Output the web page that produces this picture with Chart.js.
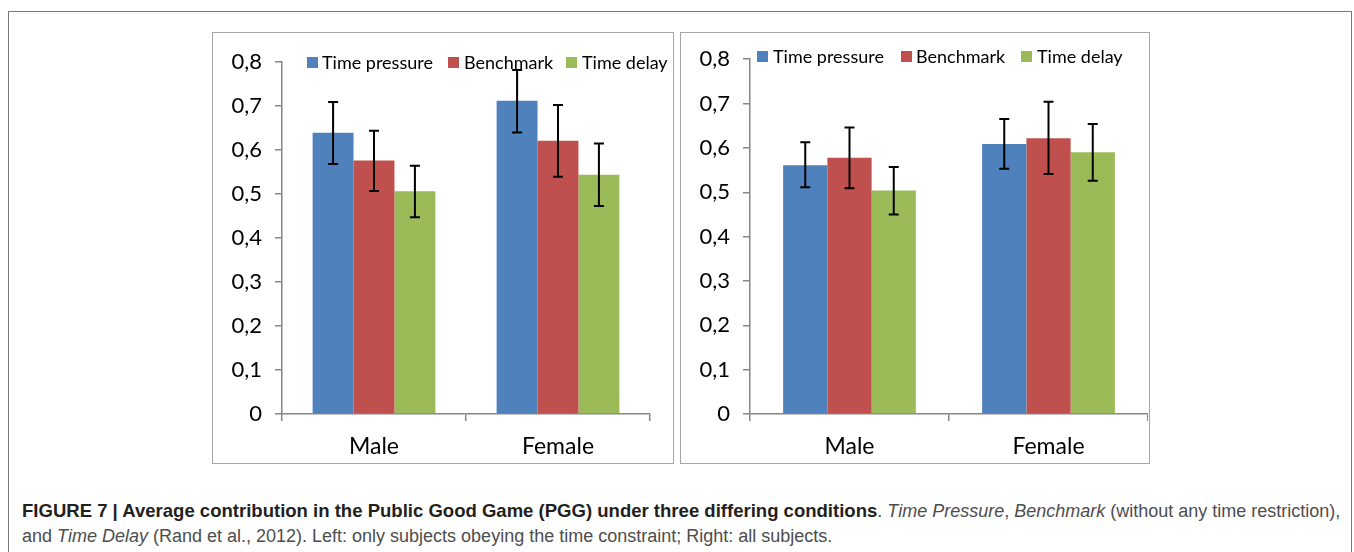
<!DOCTYPE html>
<html>
<head>
<meta charset="utf-8">
<script src="https://cdn.jsdelivr.net/npm/chart.js@4.4.1/dist/chart.umd.min.js"></script>
<style>
  body { margin: 0; background: #fff; width: 1354px; height: 552px; overflow: hidden; position: relative; }
  .frame { position: absolute; left: 8px; top: 11px; width: 1344px; height: 560px; border: 1px solid #7a7a7a; box-sizing: border-box; }
  .box { position: absolute; top: 32px; height: 432px; border: 1.5px solid #a6a6a6; box-sizing: border-box; }
  .box canvas { position: absolute; left: 0; top: 0; }
  .legend { position: absolute; font-family: Lato, sans-serif; font-size: 18px; color: #000; white-space: nowrap; }
  .legend span.sw { position: absolute; width: 10.5px; height: 10.5px; }
  .legend span.tx { position: absolute; top: -11px; line-height: 22px; }
  .caption { position: absolute; left: 22px; top: 498px; font-family: "Liberation Sans", Arial, sans-serif; font-size: 18px; color: #4d4d4d; line-height: 25px; white-space: nowrap; }
  .caption b { color: #231f20; font-size: 18.55px; }
</style>
</head>
<body>
<div class="frame"></div>

<div class="box" style="left:212px; width:462px;">
  <canvas id="leftChart" width="459" height="429"></canvas>
</div>
<div class="box" style="left:680px; width:470px;">
  <canvas id="rightChart" width="467" height="429"></canvas>
</div>

<div class="legend" id="leftLegend" style="left:0; top:62px;"></div>
<div class="legend" id="rightLegend" style="left:0; top:56px;"></div>

<div class="caption">
  <b>FIGURE 7 | Average contribution in the Public Good Game (PGG) under three differing conditions</b>. <i>Time Pressure</i>, <i>Benchmark</i> (without any time restriction),<br>
  and <i>Time Delay</i> (Rand et al., 2012). Left: only subjects obeying the time constraint; Right: all subjects.
</div>

<script>
// Datos
const categories = ['Male', 'Female'];
const seriesNames = ['Time pressure', 'Benchmark', 'Time delay'];
const seriesColors = ['#4F81BD', '#C0504D', '#9BBB59'];
const yTicks = [0, 0.1, 0.2, 0.3, 0.4, 0.5, 0.6, 0.7, 0.8];

// Izquierda: solo sujetos que respetan el límite de tiempo
const leftTimePressure = [0.639, 0.712];
const leftTimePressureHi = [0.709, 0.782];
const leftTimePressureLo = [0.568, 0.640];
const leftBenchmark = [0.576, 0.621];
const leftBenchmarkHi = [0.644, 0.702];
const leftBenchmarkLo = [0.507, 0.539];
const leftTimeDelay = [0.506, 0.544];
const leftTimeDelayHi = [0.564, 0.615];
const leftTimeDelayLo = [0.447, 0.473];

// Derecha: todos los sujetos
const rightTimePressure = [0.561, 0.609];
const rightTimePressureHi = [0.613, 0.665];
const rightTimePressureLo = [0.511, 0.553];
const rightBenchmark = [0.578, 0.622];
const rightBenchmarkHi = [0.646, 0.704];
const rightBenchmarkLo = [0.509, 0.541];
const rightTimeDelay = [0.504, 0.590];
const rightTimeDelayHi = [0.557, 0.654];
const rightTimeDelayLo = [0.450, 0.526];

const axisGray = '#868686';

// Barras de error dibujadas con las escalas del gráfico
const errorBarPlugin = {
  id: 'errorBars',
  afterDatasetsDraw(chart) {
    const ctx = chart.ctx;
    const yScale = chart.scales.y;
    chart.data.datasets.forEach((ds, i) => {
      const meta = chart.getDatasetMeta(i);
      meta.data.forEach((bar, j) => {
        const yHi = yScale.getPixelForValue(ds.errHi[j]);
        const yLo = yScale.getPixelForValue(ds.errLo[j]);
        ctx.save();
        ctx.strokeStyle = '#000';
        ctx.lineWidth = 2;
        ctx.beginPath();
        ctx.moveTo(bar.x, yHi); ctx.lineTo(bar.x, yLo);
        ctx.moveTo(bar.x - 5, yHi); ctx.lineTo(bar.x + 5, yHi);
        ctx.moveTo(bar.x - 5, yLo); ctx.lineTo(bar.x + 5, yLo);
        ctx.stroke();
        ctx.restore();
      });
    });
  }
};

const setupChart = (id, values, his, los, padTop, padRight) => {
  return new Chart(document.getElementById(id).getContext('2d'), {
    type: 'bar',
    data: {
      labels: categories,
      datasets: seriesNames.map((name, i) => ({
        label: name,
        data: values[i],
        errHi: his[i],
        errLo: los[i],
        backgroundColor: seriesColors[i],
        borderWidth: 0,
        categoryPercentage: 0.667,
        barPercentage: 1.0
      }))
    },
    options: {
      responsive: false,
      animation: false,
      layout: { padding: { top: padTop, right: padRight, left: 0, bottom: 0 } },
      plugins: { legend: { display: false }, tooltip: { enabled: false } },
      scales: {
        x: {
          afterFit: s => { s.height = 48; },
          border: { display: true, color: axisGray, width: 1.5 },
          grid: { offset: true, drawOnChartArea: false, drawTicks: true, tickLength: 7, color: axisGray, lineWidth: 1.5 },
          ticks: { color: '#000', font: { family: 'Lato', size: 23 }, padding: 12 }
        },
        y: {
          min: 0,
          max: 0.8,
          afterFit: s => { s.width = 69; },
          afterBuildTicks: s => { s.ticks = yTicks.map(v => ({ value: v })); },
          border: { display: true, color: axisGray, width: 1.5 },
          grid: { drawOnChartArea: false, drawTicks: true, tickLength: 7, color: axisGray, lineWidth: 1.5 },
          ticks: {
            color: '#000',
            font: { family: 'Lato', size: 22 },
            padding: 13,
            callback: v => v === 0 ? '0' : v.toFixed(1).replace('.', ',')
          }
        }
      }
    },
    plugins: [errorBarPlugin]
  });
};

const buildLegend = (elId, swatchX, textX) => {
  const el = document.getElementById(elId);
  seriesNames.forEach((name, i) => {
    const sw = document.createElement('span');
    sw.className = 'sw';
    sw.style.left = swatchX[i] + 'px';
    sw.style.top = '-5px';
    sw.style.background = seriesColors[i];
    const tx = document.createElement('span');
    tx.className = 'tx';
    tx.style.left = textX[i] + 'px';
    tx.textContent = name;
    el.appendChild(sw);
    el.appendChild(tx);
  });
};

document.fonts.load('21px Lato').then(() => {
  setupChart('leftChart',
    [leftTimePressure, leftBenchmark, leftTimeDelay],
    [leftTimePressureHi, leftBenchmarkHi, leftTimeDelayHi],
    [leftTimePressureLo, leftBenchmarkLo, leftTimeDelayLo],
    29, 22);
  setupChart('rightChart',
    [rightTimePressure, rightBenchmark, rightTimeDelay],
    [rightTimePressureHi, rightBenchmarkHi, rightTimeDelayHi],
    [rightTimePressureLo, rightBenchmarkLo, rightTimeDelayLo],
    19, 0);
  buildLegend('leftLegend', [307, 448, 566], [322, 464, 582]);
  buildLegend('rightLegend', [757, 901, 1021], [773, 916, 1037]);
});
</script>
</body>
</html>
